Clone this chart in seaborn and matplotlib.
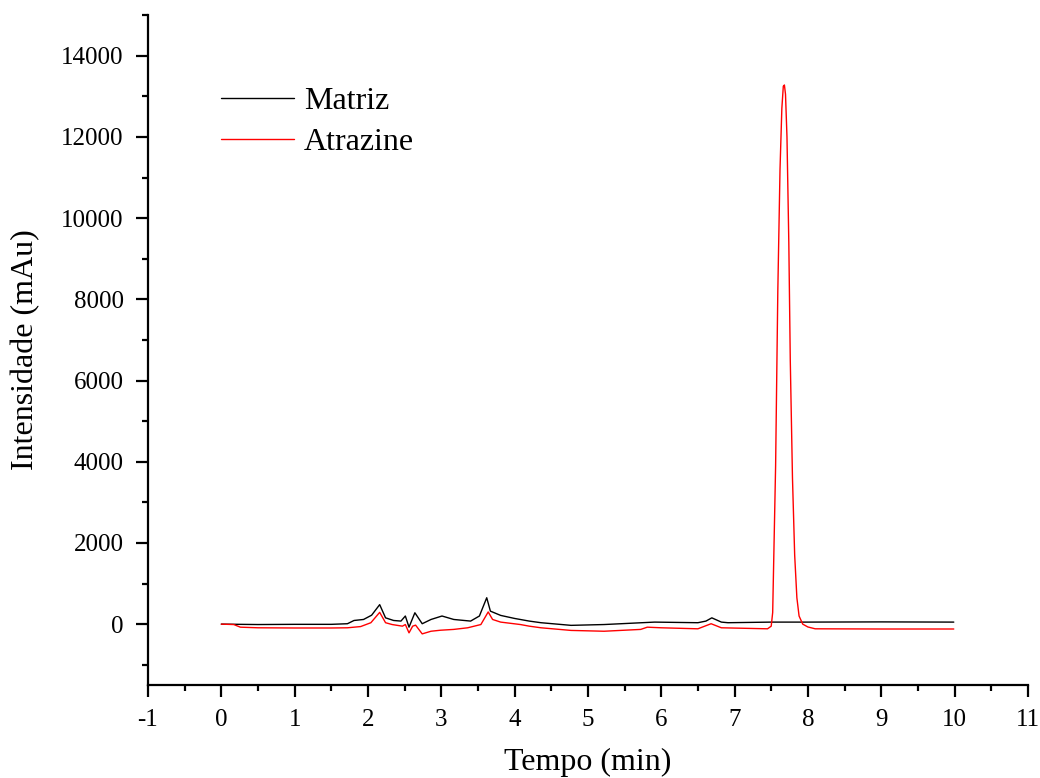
import numpy as np
import pandas as pd
import matplotlib
matplotlib.use("Agg")
import matplotlib.pyplot as plt
from matplotlib.ticker import MultipleLocator
import seaborn as sns

# --- Data ---
matriz_t = [0.00, 0.50, 1.00, 1.50, 1.72, 1.81, 1.94, 2.05, 2.16, 2.24, 2.35, 2.45, 2.51, 2.56,
            2.64, 2.74, 2.86, 3.01, 3.17, 3.40, 3.52, 3.62, 3.67, 3.81, 4.00, 4.20, 4.36,
            4.77, 5.22, 5.91, 6.50, 6.61, 6.69, 6.82, 6.91, 7.50, 8.00, 9.00, 9.99]
matriz_y = [0, -10, -5, -5, 10, 90, 115, 220, 480, 155, 90, 75, 200, -75,
            280, 10, 115, 200, 115, 75, 200, 650, 320, 215, 140, 75, 35,
            -30, -10, 50, 35, 75, 155, 50, 35, 50, 50, 55, 50]

atrazine_t = [0.00, 0.17, 0.26, 0.50, 1.00, 1.50, 1.72, 1.90, 2.04, 2.16, 2.24, 2.33, 2.47, 2.51,
              2.56, 2.61, 2.65, 2.74, 2.86, 2.99, 3.17, 3.36, 3.54, 3.64, 3.70, 3.81, 4.08,
              4.20, 4.36, 4.77, 5.22, 5.72, 5.81, 6.00, 6.50, 6.68, 6.82, 7.45, 7.50, 7.52,
              7.56, 7.59, 7.62, 7.645, 7.665, 7.68, 7.695, 7.715, 7.74, 7.76, 7.79, 7.82,
              7.85, 7.88, 7.93, 8.00, 8.10, 9.00, 9.99]
atrazine_y = [0, -10, -75, -90, -95, -95, -90, -60, 35, 290, 35, -10, -50, -10,
              -215, -50, -25, -240, -175, -150, -130, -90, -10, 300, 115, 50, -10,
              -50, -90, -155, -175, -130, -75, -90, -115, 10, -90, -115, -50, 285,
              3900, 8200, 11200, 12700, 13250, 13280, 13050, 12000, 9400, 6500, 3600, 1700,
              650, 200, 0, -70, -115, -120, -120]

x_ticks = list(range(-1, 12))
y_ticks = list(range(0, 16000, 2000))

df = pd.concat([
    pd.DataFrame({"Tempo": matriz_t, "Intensidade": matriz_y, "Serie": "Matriz"}),
    pd.DataFrame({"Tempo": atrazine_t, "Intensidade": atrazine_y, "Serie": "Atrazine"}),
], ignore_index=True)

sns.set_style("ticks")
plt.rcParams["font.family"] = ["Liberation Serif", "DejaVu Serif"]
plt.rcParams["text.color"] = "black"
plt.rcParams["axes.labelcolor"] = "black"
plt.rcParams["xtick.color"] = "black"
plt.rcParams["ytick.color"] = "black"

fig = plt.figure(figsize=(10.4, 7.78), dpi=100)
ax = fig.add_axes([0.1423, 0.1195, 0.846, 0.861])

sns.lineplot(data=df, x="Tempo", y="Intensidade", hue="Serie", sort=False,
             palette={"Matriz": "black", "Atrazine": "red"}, linewidth=1.0,
             estimator=None, ax=ax)

ax.set_xlim(-1, 11)
ax.set_ylim(-1500, 15000)
ax.set_xticks(x_ticks)
ax.set_xticklabels([str(t) for t in x_ticks])
ax.set_yticks(y_ticks)
ax.set_yticklabels([str(t) for t in y_ticks])
ax.xaxis.set_minor_locator(MultipleLocator(0.5))
ax.yaxis.set_minor_locator(MultipleLocator(1000))

ax.tick_params(axis="both", which="major", direction="out", length=8.5, width=1.6,
               labelsize=18, colors="black")
ax.tick_params(axis="y", which="major", pad=9)
ax.tick_params(axis="x", which="major", pad=9)
ax.tick_params(axis="both", which="minor", direction="out", length=4, width=1.6)

for side in ["top", "right"]:
    ax.spines[side].set_visible(False)
for side in ["left", "bottom"]:
    ax.spines[side].set_linewidth(1.6)
    ax.spines[side].set_color("black")

ax.set_xlabel("Tempo (min)", fontsize=23, labelpad=12, color="black")
ax.set_ylabel("Intensidade (mAu)", fontsize=23, labelpad=15, color="black")

leg = ax.legend(loc="upper left", bbox_to_anchor=(0.083, 0.893), frameon=False,
                fontsize=23, handlelength=2.3, handletextpad=0.3, labelspacing=0.35,
                borderpad=0, borderaxespad=0)
for line in leg.get_lines():
    line.set_linewidth(1.0)
for t in leg.get_texts():
    t.set_color("black")

fig.savefig("out.png", dpi=100)
